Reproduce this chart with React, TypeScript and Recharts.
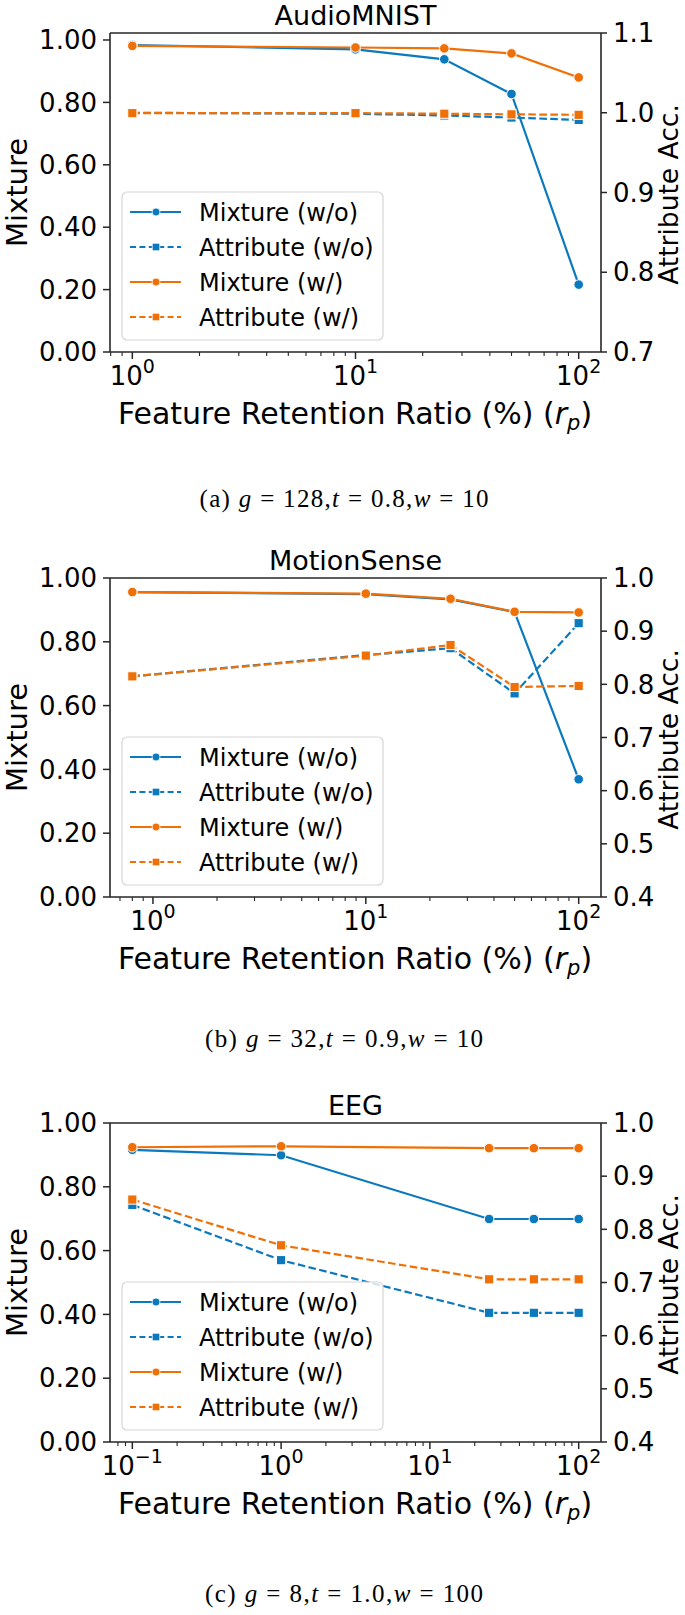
import React from 'react';
import { LineChart, Line, XAxis, YAxis, ReferenceLine } from 'recharts';

const BLUE = '#0b79bd';
const ORANGE = '#ef7007';
const INK = '#262626';
const FONT = '"DejaVu Sans", Verdana, sans-serif';
const SERIF = '"Liberation Serif", "Times New Roman", serif';

// ---------- data: AudioMNIST ----------
const audioX = [1, 10, 25, 50, 100];
const audioMixWo = [0.984, 0.970, 0.938, 0.827, 0.216];
const audioAttrWo = [1.0, 0.9987, 0.9966, 0.994, 0.991];
const audioMixW = [0.981, 0.976, 0.973, 0.957, 0.880];
const audioAttrW = [0.9995, 0.9995, 0.9988, 0.998, 0.9974];

// ---------- data: MotionSense ----------
const motionX = [0.8, 10, 25, 50, 100];
const motionMixWo = [0.956, 0.949, 0.933, 0.893, 0.369];
const motionAttrWo = [0.815, 0.855, 0.868, 0.783, 0.915];
const motionMixW = [0.956, 0.951, 0.935, 0.894, 0.892];
const motionAttrW = [0.815, 0.854, 0.874, 0.795, 0.797];

// ---------- data: EEG ----------
const eegX = [0.1, 1, 25, 50, 100];
const eegMixWo = [0.916, 0.899, 0.699, 0.699, 0.699];
const eegAttrWo = [0.846, 0.742, 0.643, 0.643, 0.643];
const eegMixW = [0.924, 0.927, 0.921, 0.921, 0.921];
const eegAttrW = [0.856, 0.770, 0.706, 0.706, 0.706];

// ---------- tick labels ----------
const leftTicks = [0, 0.2, 0.4, 0.6, 0.8, 1.0];
const rightTicksA = [0.7, 0.8, 0.9, 1.0, 1.1];
const rightTicksB = [0.4, 0.5, 0.6, 0.7, 0.8, 0.9, 1.0];
const majorsA = [1, 10, 100];
const majorsC = [0.1, 1, 10, 100];
const titles = ['AudioMNIST', 'MotionSense', 'EEG'];
const legendNames = ['Mixture (w/o)', 'Attribute (w/o)', 'Mixture (w/)', 'Attribute (w/)'];

// ---------- layout ----------
const W = 685;
const CH = 440;
const TOP = 33;
const PH = 319;
const PL = 110;
const PR = 601;
const BOTTOM = TOP + PH;
const PANEL = 545;

function minorTicks(lo: number, hi: number) {
  const out: number[] = [];
  for (let e = -3; e <= 3; e++) {
    for (let m = 2; m <= 9; m++) {
      const v = m * Math.pow(10, e);
      if (v >= lo && v <= hi) out.push(v);
    }
  }
  return out;
}

function logDomain(xs: number[]) {
  const a = Math.log10(Math.min(...xs));
  const b = Math.log10(Math.max(...xs));
  const m = 0.05 * (b - a);
  return [Math.pow(10, a - m), Math.pow(10, b + m)];
}

const circleDot = (color: string) => (props: any) => {
  const { cx, cy, index } = props;
  if (cx == null || cy == null) return <g key={`c${index}`} />;
  return <circle key={`c${index}`} cx={cx} cy={cy} r={4.8} fill={color} stroke="#fff" strokeWidth={1} />;
};
const squareDot = (color: string) => (props: any) => {
  const { cx, cy, index } = props;
  if (cx == null || cy == null) return <g key={`s${index}`} />;
  return <rect key={`s${index}`} x={cx - 4.6} y={cy - 4.6} width={9.2} height={9.2} fill={color} stroke="#fff" strokeWidth={1} />;
};

const makeXTick = (majors: number[]) => (props: any) => {
  const { x, payload } = props;
  const v = payload.value;
  const isMajor = majors.some((m) => Math.abs(m - v) < 1e-9);
  const exp = Math.round(Math.log10(v));
  return (
    <g>
      <line x1={x} x2={x} y1={BOTTOM} y2={BOTTOM + (isMajor ? 7 : 4)} stroke={INK} strokeWidth={isMajor ? 1.5 : 1.1} />
      {isMajor && (
        <text x={x} y={BOTTOM + 33} textAnchor="middle" fontFamily={FONT} fontSize={26} fill="#000">
          <tspan>10</tspan>
          <tspan dy={-12} fontSize={19}>{exp < 0 ? '\u2212' + Math.abs(exp) : String(exp)}</tspan>
        </text>
      )}
    </g>
  );
};

type PanelProps = {
  idx: number;
  xs: number[];
  mixWo: number[];
  attrWo: number[];
  mixW: number[];
  attrW: number[];
  leftMax: number;
  rightDomain: number[];
  rightTicks: number[];
  majors: number[];
  caption: React.ReactNode;
  captionY: number;
  captionLen: number;
};

function Legend() {
  const rows = [212, 247, 282, 317];
  const colors = [BLUE, BLUE, ORANGE, ORANGE];
  return (
    <g>
      <rect x={122} y={192} width={261} height={148} rx={5} ry={5} fill="#fff" fillOpacity={0.8} stroke="#d6d6d6" strokeWidth={1.2} />
      {legendNames.map((name, i) => {
        const y = rows[i];
        const dashed = i % 2 === 1;
        return (
          <g key={name}>
            <line x1={130} x2={181} y1={y} y2={y} stroke={colors[i]} strokeWidth={2.2} strokeDasharray={dashed ? '6 3.4' : undefined} />
            {dashed ? (
              <rect x={156 - 3.8} y={y - 3.8} width={7.6} height={7.6} fill={colors[i]} stroke="#fff" strokeWidth={0.8} />
            ) : (
              <circle cx={156} cy={y} r={4} fill={colors[i]} stroke="#fff" strokeWidth={0.8} />
            )}
            <text x={199} y={y + 8.5} fontFamily={FONT} fontSize={24} fill="#000">{name}</text>
          </g>
        );
      })}
    </g>
  );
}

function Panel(p: PanelProps) {
  const rows = p.xs.map((x, i) => ({ x, mixWo: p.mixWo[i], attrWo: p.attrWo[i], mixW: p.mixW[i], attrW: p.attrW[i] }));
  const dom = logDomain(p.xs);
  const ticks = [...p.majors, ...minorTicks(dom[0], dom[1])].sort((a, b) => a - b);
  const cx = (PL + PR) / 2;
  const cy = TOP + PH / 2;
  return (
    <div style={{ position: 'absolute', left: 0, top: p.idx * PANEL, width: W, height: PANEL }}>
      <LineChart width={W} height={CH} data={rows} margin={{ top: TOP, right: 0, bottom: 0, left: 0 }}>
        <XAxis
          dataKey="x"
          type="number"
          scale="log"
          domain={dom}
          allowDataOverflow
          ticks={ticks}
          interval={0}
          height={CH - TOP - PH}
          tickSize={0}
          tickMargin={0}
          tickLine={false}
          axisLine={{ stroke: INK, strokeWidth: 1.6 }}
          tick={makeXTick(p.majors)}
        />
        <YAxis
          yAxisId="L"
          orientation="left"
          width={PL}
          domain={[0, p.leftMax]}
          allowDataOverflow
          ticks={leftTicks}
          interval={0}
          tickFormatter={(v: number) => v.toFixed(2)}
          tick={{ fontSize: 26, fill: '#000', fontFamily: FONT }}
          tickSize={7}
          tickMargin={6}
          axisLine={{ stroke: INK, strokeWidth: 1.6 }}
          tickLine={{ stroke: INK, strokeWidth: 1.5 }}
        />
        <YAxis
          yAxisId="R"
          orientation="right"
          width={W - PR}
          domain={p.rightDomain}
          allowDataOverflow
          ticks={p.rightTicks}
          interval={0}
          tickFormatter={(v: number) => v.toFixed(1)}
          tick={{ fontSize: 26, fill: '#000', fontFamily: FONT }}
          tickSize={6}
          tickMargin={6}
          axisLine={{ stroke: INK, strokeWidth: 1.6 }}
          tickLine={{ stroke: INK, strokeWidth: 1.5 }}
        />
        <ReferenceLine yAxisId="L" y={p.leftMax} stroke={INK} strokeWidth={1.6} />
        <Line yAxisId="L" type="linear" dataKey="mixWo" stroke={BLUE} strokeWidth={2.2} dot={circleDot(BLUE)} activeDot={false} isAnimationActive={false} />
        <Line yAxisId="L" type="linear" dataKey="mixW" stroke={ORANGE} strokeWidth={2.2} dot={circleDot(ORANGE)} activeDot={false} isAnimationActive={false} />
        <Line yAxisId="R" type="linear" dataKey="attrWo" stroke={BLUE} strokeWidth={2.2} strokeDasharray="7.6 3.4" dot={squareDot(BLUE)} activeDot={false} isAnimationActive={false} />
        <Line yAxisId="R" type="linear" dataKey="attrW" stroke={ORANGE} strokeWidth={2.2} strokeDasharray="7.6 3.4" dot={squareDot(ORANGE)} activeDot={false} isAnimationActive={false} />
      </LineChart>
      <svg width={W} height={PANEL} style={{ position: 'absolute', left: 0, top: 0, pointerEvents: 'none', overflow: 'visible' }}>
        <text x={cx} y={TOP - 8} textAnchor="middle" fontFamily={FONT} fontSize={27} fill="#000">{titles[p.idx]}</text>
        <text x={27} y={cy} textAnchor="middle" fontFamily={FONT} fontSize={29} fill="#000" transform={`rotate(-90 27 ${cy})`}>Mixture</text>
        <text x={678} y={cy + 2} textAnchor="middle" fontFamily={FONT} fontSize={26.5} fill="#000" transform={`rotate(-90 678 ${cy + 2})`}>Attribute Acc.</text>
        <text x={355} y={BOTTOM + 72} textAnchor="middle" fontFamily={FONT} fontSize={30} fill="#000">
          <tspan>Feature Retention Ratio (%) (</tspan>
          <tspan fontStyle="italic">r</tspan>
          <tspan fontStyle="italic" fontSize={21} dy={6}>p</tspan>
          <tspan dy={-6}>)</tspan>
        </text>
        <Legend />
        <text x={344} y={p.captionY} textAnchor="middle" fontFamily={SERIF} fontSize={25} fill="#000" textLength={p.captionLen} lengthAdjust="spacing">
          {p.caption}
        </text>
      </svg>
    </div>
  );
}

export default function App() {
  return (
    <div style={{ position: 'absolute', left: 0, top: 0, width: W, height: 1615, background: '#fff', overflow: 'hidden' }}>
      <Panel
        idx={0}
        xs={audioX}
        mixWo={audioMixWo}
        attrWo={audioAttrWo}
        mixW={audioMixW}
        attrW={audioAttrW}
        leftMax={1.0224}
        rightDomain={[0.7, 1.1]}
        rightTicks={rightTicksA}
        majors={majorsA}
        captionY={507}
        captionLen={289}
        caption={<><tspan>(a) </tspan><tspan fontStyle="italic">g</tspan><tspan> = 128,</tspan><tspan fontStyle="italic">t</tspan><tspan> = 0.8,</tspan><tspan fontStyle="italic">w</tspan><tspan> = 10</tspan></>}
      />
      <Panel
        idx={1}
        xs={motionX}
        mixWo={motionMixWo}
        attrWo={motionAttrWo}
        mixW={motionMixW}
        attrW={motionAttrW}
        leftMax={1.0}
        rightDomain={[0.4, 1.0]}
        rightTicks={rightTicksB}
        majors={majorsA}
        captionY={502}
        captionLen={278}
        caption={<><tspan>(b) </tspan><tspan fontStyle="italic">g</tspan><tspan> = 32,</tspan><tspan fontStyle="italic">t</tspan><tspan> = 0.9,</tspan><tspan fontStyle="italic">w</tspan><tspan> = 10</tspan></>}
      />
      <Panel
        idx={2}
        xs={eegX}
        mixWo={eegMixWo}
        attrWo={eegAttrWo}
        mixW={eegMixW}
        attrW={eegAttrW}
        leftMax={1.0}
        rightDomain={[0.4, 1.0]}
        rightTicks={rightTicksB}
        majors={majorsC}
        captionY={512}
        captionLen={278}
        caption={<><tspan>(c) </tspan><tspan fontStyle="italic">g</tspan><tspan> = 8,</tspan><tspan fontStyle="italic">t</tspan><tspan> = 1.0,</tspan><tspan fontStyle="italic">w</tspan><tspan> = 100</tspan></>}
      />
    </div>
  );
}
